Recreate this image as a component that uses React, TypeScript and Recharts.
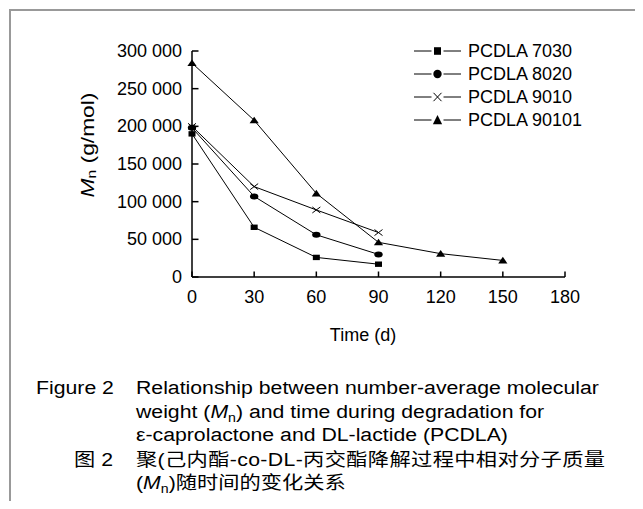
import { LineChart, Line, XAxis, YAxis, Legend } from 'recharts';

const days = [0, 30, 60, 90, 120, 150];
const pcdla7030 = [190000, 66000, 26000, 17000, null, null];
const pcdla8020 = [198000, 107000, 56000, 30000, null, null];
const pcdla9010 = [200000, 120000, 89000, 59000, null, null];
const pcdla90101 = [284000, 208000, 111000, 46000, 31000, 22000];

const seriesNames = ['PCDLA 7030', 'PCDLA 8020', 'PCDLA 9010', 'PCDLA 90101'];
const xTicks = [0, 30, 60, 90, 120, 150, 180];
const yTicks = [0, 50000, 100000, 150000, 200000, 250000, 300000];

const data = days.map((d, i) => ({
  day: d,
  s7030: pcdla7030[i],
  s8020: pcdla8020[i],
  s9010: pcdla9010[i],
  s90101: pcdla90101[i],
}));

const FONT = '"Liberation Sans", Arial, Helvetica, sans-serif';
const CJK = '"Liberation Sans", "Noto Sans CJK SC", sans-serif';
const fmt = (v: number) => String(v).replace(/\B(?=(\d{3})+(?!\d))/g, ' ');

// marker shapes, drawn around (cx, cy)
function Marker({ kind, cx, cy, legend }: { kind: number; cx: number; cy: number; legend?: boolean }) {
  const h = legend ? 1.4 : 1;
  if (kind === 0) return <rect x={cx - 3.5} y={cy - 2.7 * h} width={7} height={5.4 * h} fill="#000" />;
  if (kind === 1) return <ellipse cx={cx} cy={cy} rx={4.2} ry={3 * h} fill="#000" />;
  if (kind === 2)
    return (
      <path
        d={`M${cx - 4},${cy - 3 * h}L${cx + 4},${cy + 3 * h}M${cx - 4},${cy + 3 * h}L${cx + 4},${cy - 3 * h}`}
        stroke="#000"
        strokeWidth={1}
        fill="none"
      />
    );
  return <path d={`M${cx},${cy - 3.6 * h}L${cx + 4.6},${cy + 3 * h}L${cx - 4.6},${cy + 3 * h}Z`} fill="#000" />;
}

const makeDot = (kind: number) => (props: any) => {
  const { cx, cy, index, value } = props;
  if (value == null || cx == null || cy == null) return <g key={`e-${index}`} />;
  return (
    <g key={`d-${kind}-${index}`}>
      <Marker kind={kind} cx={cx} cy={cy} />
    </g>
  );
};

const YTick = (props: any) => {
  const { x, y, payload } = props;
  return (
    <g>
      <line x1={x} y1={y} x2={x + 6.5} y2={y} stroke="#000" strokeWidth={1.5} />
      <text x={x - 10} y={y} textAnchor="end" dominantBaseline="central" fontSize={18} fontFamily={FONT} fill="#000">
        {fmt(payload.value)}
      </text>
    </g>
  );
};

const XTick = (props: any) => {
  const { x, y, payload } = props;
  return (
    <g>
      <line x1={x} y1={y} x2={x} y2={y - 5.5} stroke="#000" strokeWidth={1.5} />
      <text x={x} y={y + 20} textAnchor="middle" dominantBaseline="central" fontSize={18} fontFamily={FONT} fill="#000">
        {payload.value}
      </text>
    </g>
  );
};

const YLabel = () => (
  <text
    x={0}
    y={0}
    transform="translate(87, 145) rotate(-90) scale(1.2, 1)"
    textAnchor="middle"
    dominantBaseline="central"
    fontSize={19}
    fontFamily={FONT}
    fill="#000"
  >
    <tspan fontStyle="italic">M</tspan>
    <tspan fontSize={13} dy={4}>n</tspan>
    <tspan dy={-4}> (g/mol)</tspan>
  </text>
);

const XLabel = () => (
  <text x={363} y={335} textAnchor="middle" dominantBaseline="central" fontSize={18} fontFamily={FONT} fill="#000">
    Time (d)
  </text>
);

const LegendBox = () => (
  <div style={{ fontFamily: FONT, fontSize: 18, color: '#000' }}>
    {seriesNames.map((name, i) => (
      <div key={name} style={{ display: 'flex', alignItems: 'center', height: 23.1 }}>
        <svg width={53} height={14} style={{ display: 'block' }}>
          <line x1={2} y1={7} x2={49} y2={7} stroke="#000" strokeWidth={1} />
          <rect x={19.5} y={0} width={12} height={14} fill="#fff" />
          <Marker kind={i} cx={25.5} cy={7} legend />
        </svg>
        <span style={{ marginLeft: 3, lineHeight: '18px' }}>{name}</span>
      </div>
    ))}
  </div>
);

const Sub = () => (
  <span style={{ fontSize: 12, position: 'relative', top: 4, lineHeight: 0 }}>n</span>
);

const capLine = (left: number, center: number, family: string, spacing = 0): React.CSSProperties => ({
  position: 'absolute',
  left,
  top: center - 11,
  height: 22,
  lineHeight: '22px',
  fontSize: 18,
  fontFamily: family,
  whiteSpace: 'nowrap',
  letterSpacing: spacing,
  transform: 'scaleX(1.18)',
  transformOrigin: 'left center',
  color: '#000',
});

const keys = ['s7030', 's8020', 's9010', 's90101'];

export default function App() {
  return (
    <div style={{ position: 'relative', margin: -8, width: 643, height: 509, background: '#fff', fontFamily: FONT }}>
      <div style={{ position: 'absolute', left: 9, top: 9, width: 634, height: 2, background: '#999' }} />
      <div style={{ position: 'absolute', left: 9, top: 9, width: 2, height: 500, background: '#999' }} />

      <div style={{ position: 'absolute', left: 0, top: 0 }}>
        <LineChart width={643} height={509} data={data} margin={{ top: 51, right: 78, bottom: 231, left: 191 }}>
          <XAxis
            dataKey="day"
            type="number"
            domain={[0, 180]}
            ticks={xTicks}
            height={1}
            tickSize={0}
            tickMargin={0}
            tickLine={false}
            tick={<XTick />}
            axisLine={{ stroke: '#000', strokeWidth: 1.5 }}
            label={<XLabel />}
            interval={0}
          />
          <YAxis
            type="number"
            domain={[0, 300000]}
            ticks={yTicks}
            width={1}
            tickSize={0}
            tickMargin={0}
            tickLine={false}
            tick={<YTick />}
            axisLine={{ stroke: '#000', strokeWidth: 1.5 }}
            label={<YLabel />}
            interval={0}
          />
          <Legend
            layout="vertical"
            align="center"
            verticalAlign="middle"
            content={<LegendBox />}
            wrapperStyle={{ top: 39, left: 412, width: 'auto', height: 'auto' }}
          />
          {keys.map((k, i) => (
            <Line
              key={k}
              dataKey={k}
              name={seriesNames[i]}
              stroke="#000"
              strokeWidth={1}
              dot={makeDot(i)}
              activeDot={false}
              isAnimationActive={false}
              connectNulls={false}
            />
          ))}
        </LineChart>
      </div>

      <div style={capLine(36, 388, FONT)}>Figure 2</div>
      <div style={capLine(136, 388, FONT)}>Relationship between number-average molecular</div>
      <div style={capLine(136, 412, FONT)}>
        weight (<i>M</i>
        <Sub />) and time during degradation for
      </div>
      <div style={capLine(136, 435, FONT)}>ε-caprolactone and DL-lactide (PCDLA)</div>
      <div style={capLine(74, 460, CJK)}>图 2</div>
      <div style={capLine(136, 460, CJK, 0.3)}>聚(己内酯-co-DL-丙交酯降解过程中相对分子质量</div>
      <div style={capLine(136, 483, CJK)}>
        (<i>M</i>
        <Sub />)随时间的变化关系
      </div>
    </div>
  );
}
